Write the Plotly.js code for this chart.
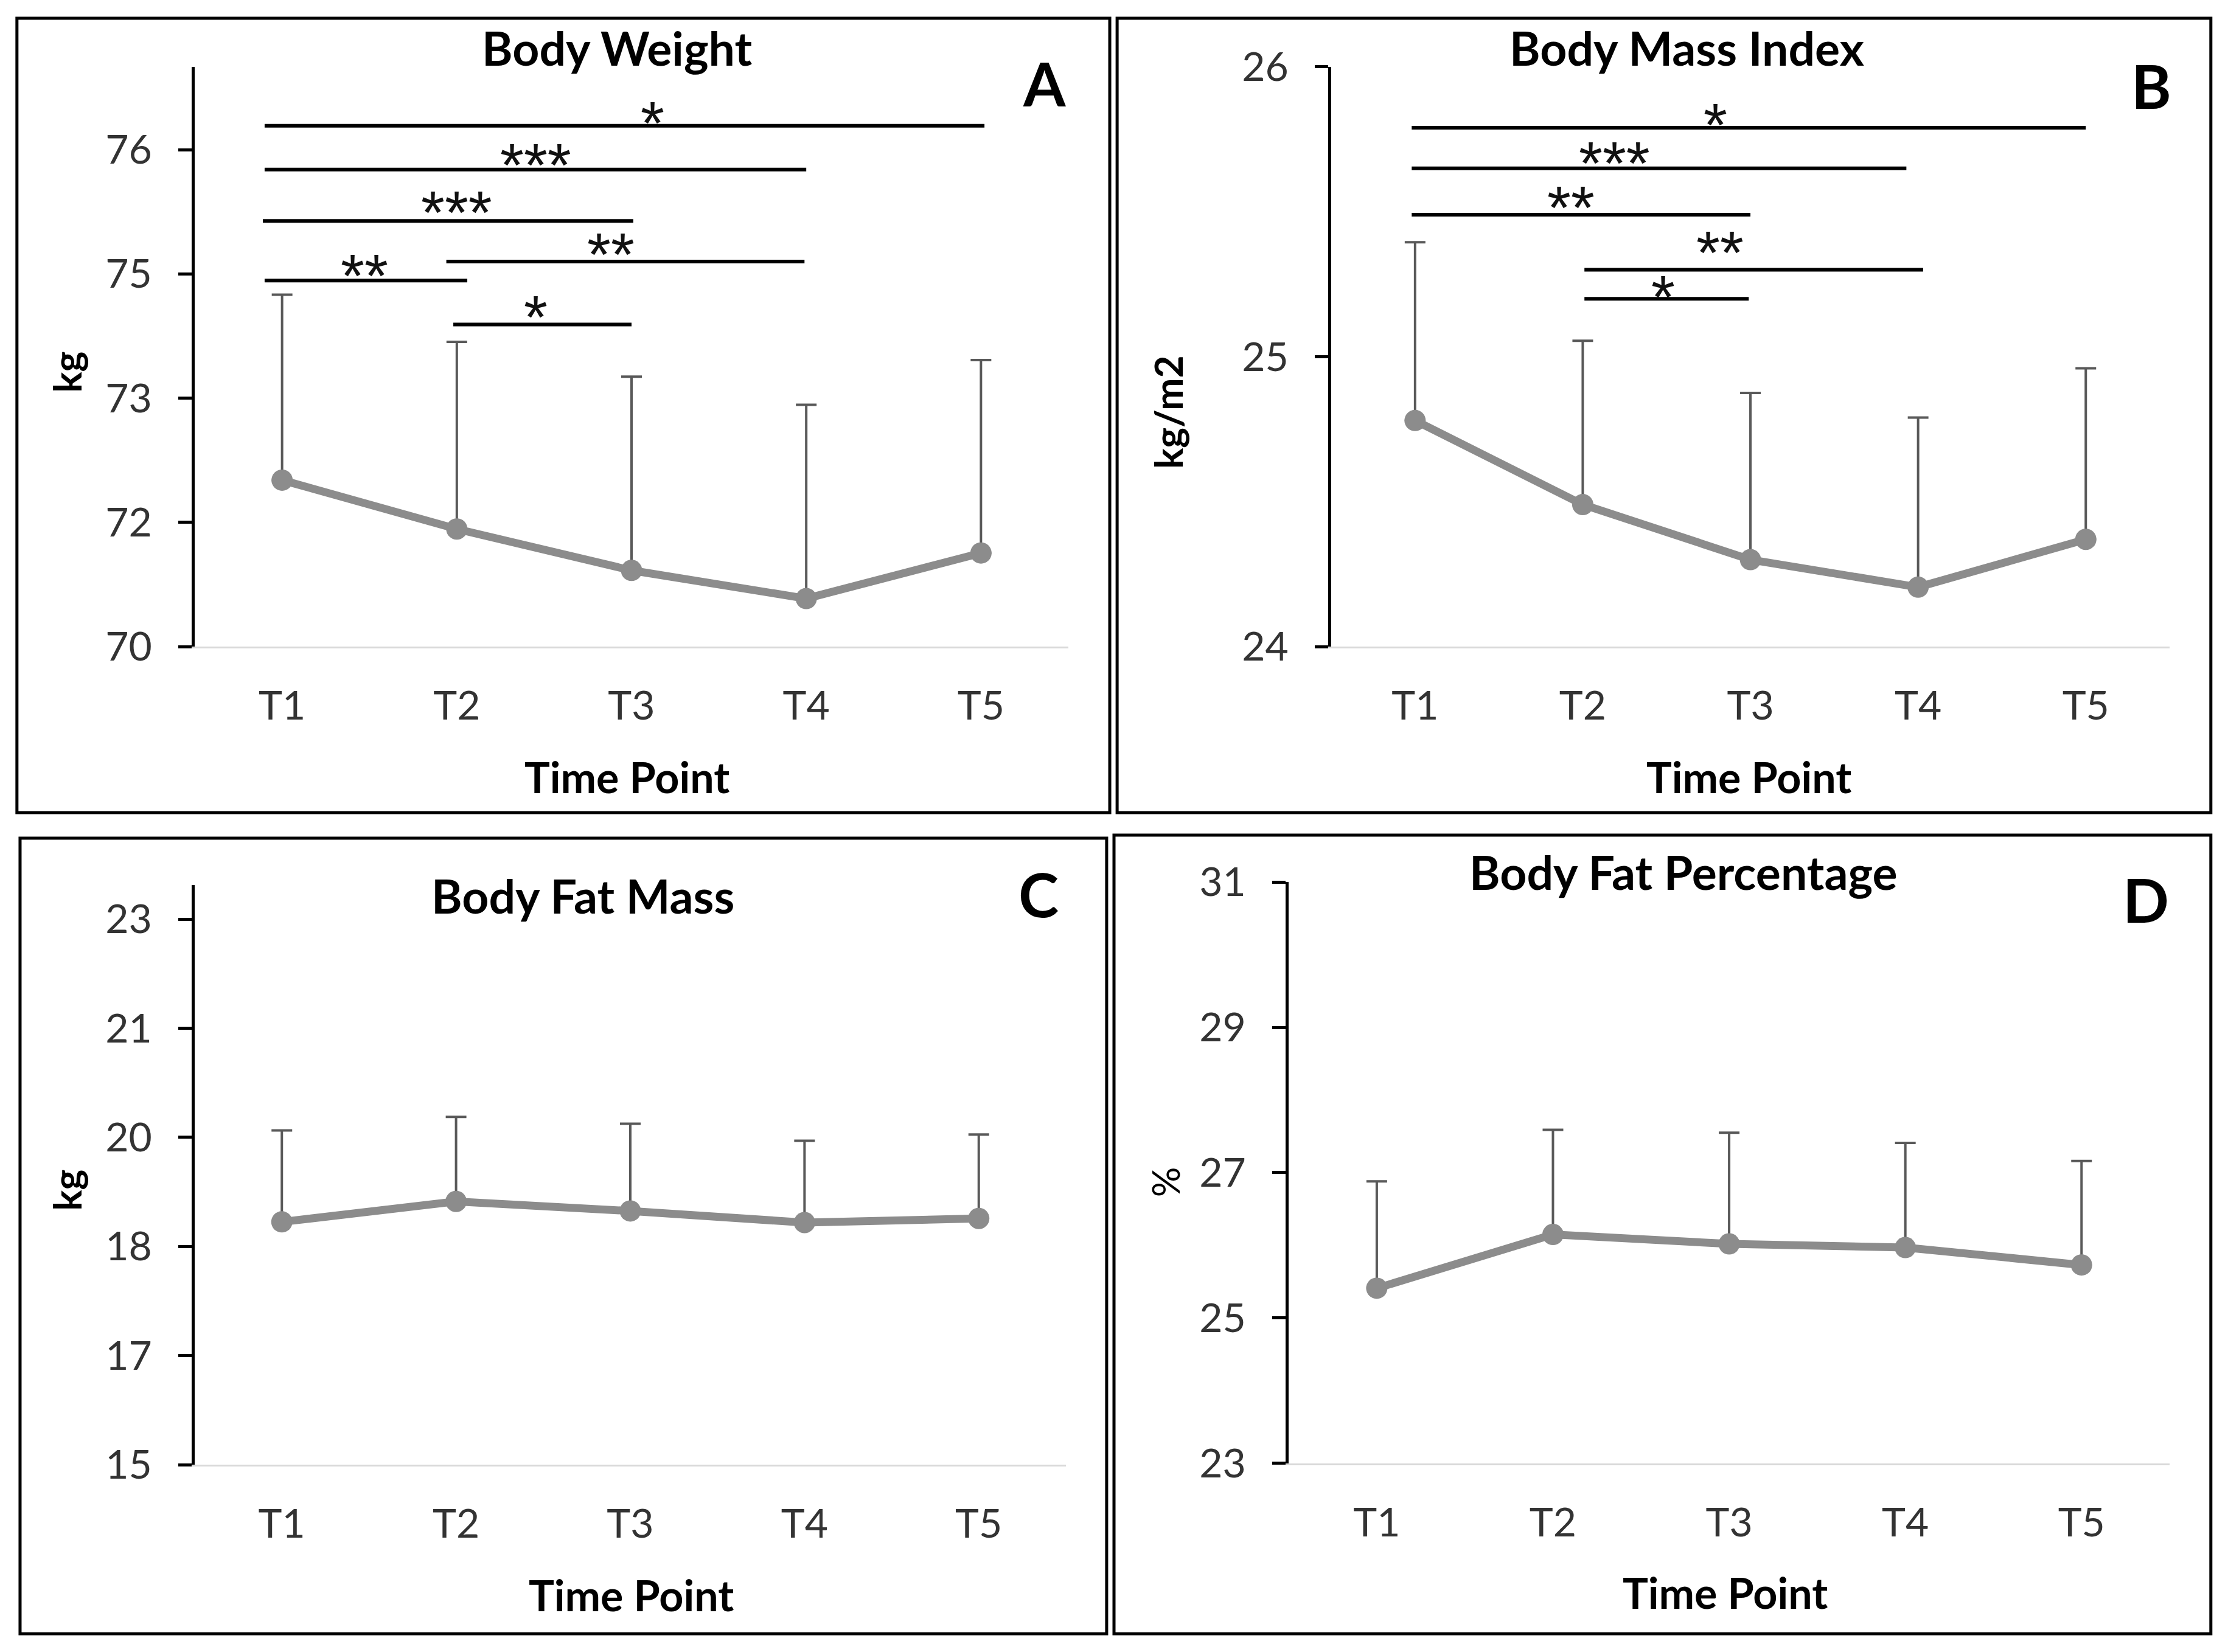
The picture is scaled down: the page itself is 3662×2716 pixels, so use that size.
<!DOCTYPE html>
<html><head><meta charset="utf-8">
<script src="https://cdn.plot.ly/plotly-3.0.1.min.js"></script>
<style>html,body{margin:0;padding:0;background:#fff}</style>
</head><body><div id="chart" style="width:3662px;height:2716px"></div>
<script>
// ---------- data ----------
const timePoints = ['T1','T2','T3','T4','T5'];

const weightMean = [72.01, 71.42, 70.92, 70.58, 71.13];
const weightSD   = [2.24, 2.26, 2.34, 2.34, 2.33];
const bmiMean    = [24.78, 24.49, 24.30, 24.205, 24.37];
const bmiSD      = [0.615, 0.565, 0.575, 0.585, 0.59];
const fatMassMean = [18.56, 18.86, 18.72, 18.55, 18.61];
const fatMassSD   = [1.34, 1.24, 1.28, 1.20, 1.23];
const fatPctMean  = [25.41, 26.15, 26.02, 25.97, 25.73];
const fatPctSD    = [1.47, 1.44, 1.53, 1.44, 1.43];

// tick values and (Excel-rounded) tick labels
const weightTickVals = [70, 71.5, 73, 74.5, 76];
const weightTickText = ['70','72','73','75','76'];
const bmiTickVals = [24, 25, 26];
const bmiTickText = ['24','25','26'];
const fatMassTickVals = [15, 16.6, 18.2, 19.8, 21.4, 23];
const fatMassTickText = ['15','17','18','20','21','23'];
const fatPctTickVals = [23, 25, 27, 29, 31];
const fatPctTickText = ['23','25','27','29','31'];

// significance brackets (category index units / data units)
const weightSigStart = [-0.10, -0.10, -0.11, -0.10, 0.94, 0.98];
const weightSigEnd   = [4.02, 3.00, 2.01, 1.06, 2.99, 2.00];
const weightSigLevel = [76.29, 75.76, 75.14, 74.42, 74.65, 73.89];
const weightSigLabel = ['*','***','***','**','**','*'];
const weightSigLabelAt = [2.12, 1.45, 1.00, 0.47, 1.88, 1.45];
const weightSigLabelY  = [76.46, 75.95, 75.38, 74.61, 74.87, 74.11];

const bmiSigStart = [-0.02, -0.02, -0.02, 1.01, 1.01];
const bmiSigEnd   = [4.00, 2.93, 2.00, 3.03, 1.99];
const bmiSigLevel = [25.79, 25.65, 25.49, 25.30, 25.20];
const bmiSigLabel = ['*','***','**','**','*'];
const bmiSigLabelAt = [1.79, 1.19, 0.93, 1.82, 1.48];
const bmiSigLabelY  = [25.838, 25.706, 25.554, 25.397, 25.245];

// ---------- styling ----------
const FONT = 'Lato, "Open Sans", sans-serif';
const STAR_FONT = '"Liberation Sans", Arial, sans-serif';
const LINE_COL = '#8c8c8c';
const ERR_COL = '#595959';
const TICK_COL = '#333333';

function trace(mean, sd, xa, ya) {
  return {
    type: 'scatter', mode: 'lines+markers',
    x: timePoints, y: mean, xaxis: xa, yaxis: ya,
    line: {color: LINE_COL, width: 13},
    marker: {color: LINE_COL, size: 35},
    error_y: {type: 'data', symmetric: false, array: sd,
              arrayminus: sd.map(() => 0),
              color: ERR_COL, thickness: 4, width: 17},
    showlegend: false, hoverinfo: 'skip'
  };
}

function xaxis(domain, anchor) {
  return {
    domain: domain, anchor: anchor, type: 'category',
    range: [-0.5, 4.5], showline: true, linecolor: '#d9d9d9', linewidth: 3,
    ticks: '', showgrid: false, zeroline: false, fixedrange: true,
    tickfont: {family: FONT, size: 66, color: TICK_COL},
    ticklabelstandoff: 38
  };
}
function yaxis(domain, anchor, range, vals, text) {
  return {
    domain: domain, anchor: anchor, range: range,
    tickmode: 'array', tickvals: vals, ticktext: text,
    showline: true, linecolor: '#000', linewidth: 5,
    ticks: 'outside', ticklen: 22, tickwidth: 5, tickcolor: '#000',
    showgrid: false, zeroline: false, fixedrange: true,
    tickfont: {family: FONT, size: 66, color: TICK_COL},
    ticklabelstandoff: 30
  };
}

const data = [
  trace(weightMean, weightSD, 'x', 'y'),
  trace(bmiMean, bmiSD, 'x2', 'y2'),
  trace(fatMassMean, fatMassSD, 'x3', 'y3'),
  trace(fatPctMean, fatPctSD, 'x4', 'y4')
];

const shapes = [];
const annotations = [];

// panel frames
[[0.0076, 0.4981, 0.5081, 0.9890],
 [0.5014, 0.9923, 0.5081, 0.9890],
 [0.0090, 0.4967, 0.0110, 0.4926],
 [0.5000, 0.9923, 0.0110, 0.4945]].forEach(f => {
  shapes.push({type: 'rect', xref: 'paper', yref: 'paper',
    x0: f[0], x1: f[1], y0: f[2], y1: f[3],
    line: {color: '#000', width: 5}, fillcolor: 'rgba(0,0,0,0)'});
});

function addSig(starts, ends, levels, labels, labelAt, labelY, xr, yr) {
  for (let i = 0; i < starts.length; i++) {
    shapes.push({type: 'line', xref: xr, yref: yr,
      x0: starts[i], x1: ends[i], y0: levels[i], y1: levels[i],
      line: {color: '#000', width: 6}});
    annotations.push({xref: xr, yref: yr, x: labelAt[i], y: labelY[i],
      text: labels[i], showarrow: false, xanchor: 'center', yanchor: 'middle',
      height: 80, valign: 'middle',
      yshift: -18, font: {family: STAR_FONT, size: 100, color: '#111'}});
  }
}
addSig(weightSigStart, weightSigEnd, weightSigLevel, weightSigLabel, weightSigLabelAt, weightSigLabelY, 'x', 'y');
addSig(bmiSigStart, bmiSigEnd, bmiSigLevel, bmiSigLabel, bmiSigLabelAt, bmiSigLabelY, 'x2', 'y2');

function txt(text, x, y, size, opts) {
  annotations.push(Object.assign({xref: 'paper', yref: 'paper', x: x, y: y,
    text: text, showarrow: false, xanchor: 'center', yanchor: 'middle',
    font: {family: FONT, size: size, color: '#000'}}, opts || {}));
}
// panel titles
txt('<b>Body Weight</b>', 0.2768, 0.9712, 77);
txt('<b>Body Mass Index</b>', 0.7570, 0.9712, 77);
txt('<b>Body Fat Mass</b>', 0.2615, 0.4580, 77);
txt('<b>Body Fat Percentage</b>', 0.7557, 0.4725, 77);
// panel letters
txt('<b>A</b>', 0.4688, 0.9500, 100);
txt('<b>B</b>', 0.9656, 0.9485, 100);
txt('<b>C</b>', 0.4662, 0.4590, 100);
txt('<b>D</b>', 0.9630, 0.4558, 100);
// x axis titles
txt('<b>Time Point</b>', 0.2813, 0.5297, 70);
txt('<b>Time Point</b>', 0.7850, 0.5297, 70);
txt('<b>Time Point</b>', 0.2832, 0.0345, 70);
txt('<b>Time Point</b>', 0.7742, 0.0360, 70);
// y axis titles
txt('<b>kg</b>', 0.0300, 0.7747, 64, {textangle: -90});
txt('<b>kg/m2</b>', 0.5242, 0.7506, 64, {textangle: -90});
txt('<b>kg</b>', 0.0300, 0.2795, 64, {textangle: -90});
txt('%', 0.5230, 0.2846, 62, {textangle: -90});

const layout = {
  width: 3662, height: 2716,
  margin: {l: 0, r: 0, t: 0, b: 0},
  paper_bgcolor: '#fff', plot_bgcolor: '#fff',
  showlegend: false,
  xaxis:  xaxis([0.0874, 0.4795], 'y'),
  yaxis:  yaxis([0.6086, 0.9595], 'x', [70, 77], weightTickVals, weightTickText),
  xaxis2: xaxis([0.5975, 0.9738], 'y2'),
  yaxis2: yaxis([0.6086, 0.9595], 'x2', [24, 26], bmiTickVals, bmiTickText),
  xaxis3: xaxis([0.0874, 0.4784], 'y3'),
  yaxis3: yaxis([0.1134, 0.4643], 'x3', [15, 23.5], fatMassTickVals, fatMassTickText),
  xaxis4: xaxis([0.5784, 0.9738], 'y4'),
  yaxis4: yaxis([0.1142, 0.4661], 'x4', [23, 31], fatPctTickVals, fatPctTickText),
  shapes: shapes,
  annotations: annotations
};

Plotly.newPlot('chart', data, layout, {staticPlot: true, displayModeBar: false});
</script>
</body></html>
